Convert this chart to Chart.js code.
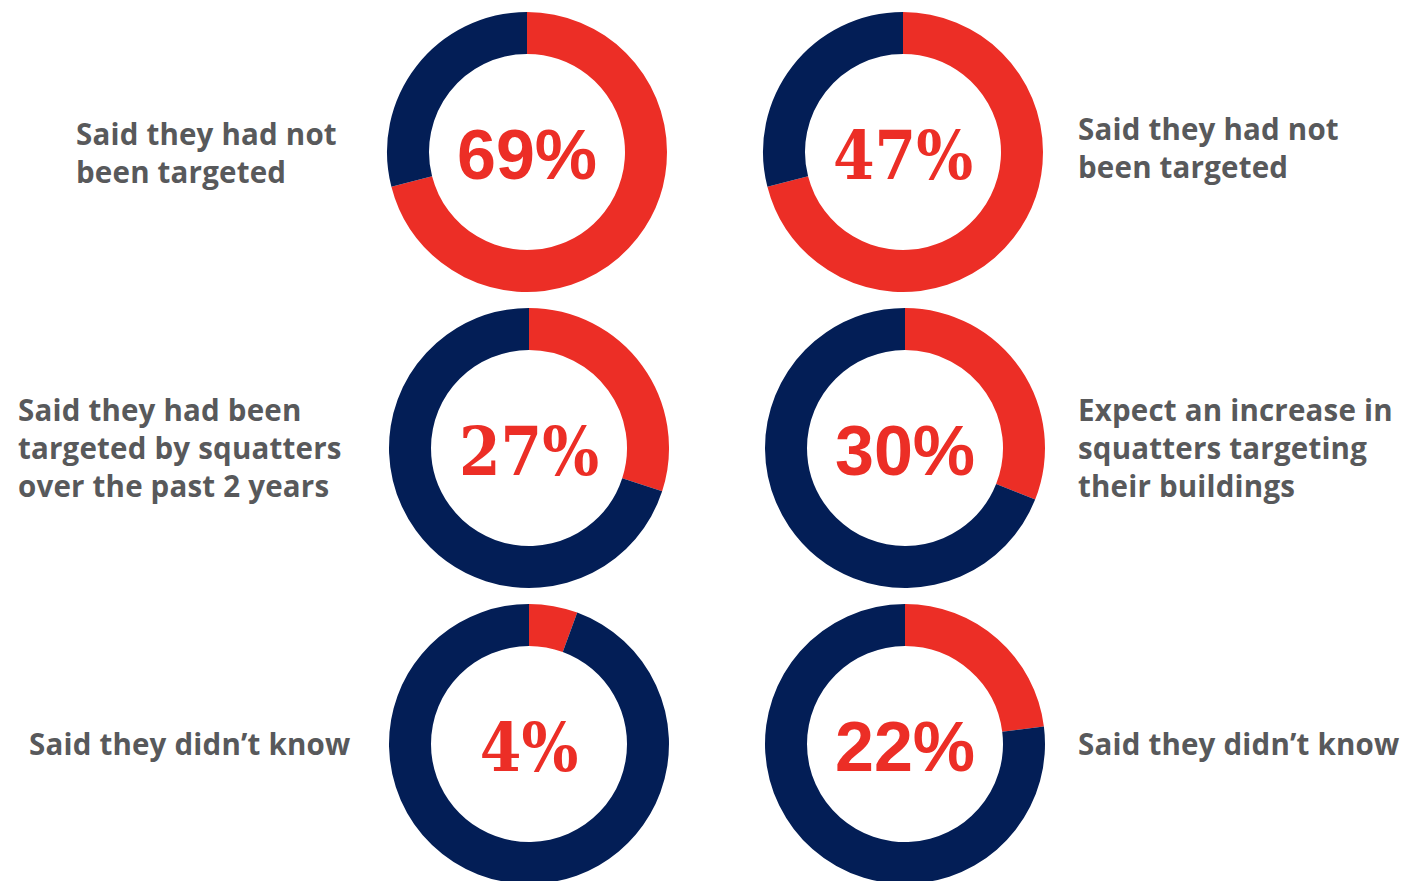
<!DOCTYPE html>
<html>
<head>
<meta charset="utf-8">
<script src="https://cdn.jsdelivr.net/npm/chart.js@4.4.1/dist/chart.umd.min.js"></script>
<style>
  html, body { margin: 0; padding: 0; background: #ffffff; width: 1413px; height: 881px; overflow: hidden; }
  .wrap { position: absolute; width: 300px; height: 300px; }
  .cap { position: absolute; font-family: "Open Sans", sans-serif; font-weight: 700; font-size: 29.5px;
         letter-spacing: 0.2px; line-height: 38px; color: #58595B; white-space: nowrap; }
</style>
</head>
<body>
<script>
// ---- data ----
const centerLabels = ['69%', '47%', '27%', '30%', '4%', '22%'];
const redShare = [71, 71, 30, 31, 5.6, 23];          // red arc share as drawn
const restShare = [29, 29, 70, 69, 94.4, 77];        // navy arc share as drawn
const slabFont = [false, true, true, false, true, false];
const captions = [
  ['Said they had not', 'been targeted'],
  ['Said they had not', 'been targeted'],
  ['Said they had been', 'targeted by squatters', 'over the past 2 years'],
  ['Expect an increase in', 'squatters targeting', 'their buildings'],
  ['Said they didn\u2019t know'],
  ['Said they didn\u2019t know']
];

// ---- layout ----
const centers = [[527,152],[903,152],[529,448],[905,448],[529,744],[905,744]];
const capPos = [[76,115],[1078,110],[18,391],[1078,391],[29,725],[1078,725]];
const RED = '#EC2E26', NAVY = '#031E56';

const centerText = {
  id: 'centerText',
  afterDraw(chart, args, opts) {
    const ctx = chart.ctx;
    const meta = chart.getDatasetMeta(0).data[0];
    const cx = meta.x, cy = meta.y;
    ctx.save();
    ctx.fillStyle = RED;
    ctx.textAlign = 'center';
    ctx.textBaseline = 'alphabetic';
    ctx.translate(cx, cy + 27);
    if (opts.slab) {
      ctx.font = 'bold 68px "DejaVu Serif", serif';
      ctx.scale(0.88, 1);
    } else {
      ctx.font = 'bold 70px "Liberation Sans", Arial, sans-serif';
    }
    ctx.fillText(opts.text, 0, 0);
    ctx.restore();
  }
};

centers.forEach((c, i) => {
  const div = document.createElement('div');
  div.className = 'wrap';
  div.style.left = (c[0] - 150) + 'px';
  div.style.top = (c[1] - 150) + 'px';
  const cv = document.createElement('canvas');
  cv.width = 300; cv.height = 300;
  div.appendChild(cv);
  document.body.appendChild(div);
  new Chart(cv, {
    type: 'doughnut',
    data: {
      labels: ['Share', 'Rest'],
      datasets: [{
        data: [redShare[i], restShare[i]],
        backgroundColor: [RED, NAVY],
        borderWidth: 0
      }]
    },
    options: {
      responsive: false,
      animation: false,
      radius: 140,
      cutout: '70%',
      layout: { padding: 0 },
      plugins: {
        legend: { display: false },
        tooltip: { enabled: false },
        centerText: { text: centerLabels[i], slab: slabFont[i] }
      }
    },
    plugins: [centerText]
  });

  const cap = document.createElement('div');
  cap.className = 'cap';
  cap.style.left = capPos[i][0] + 'px';
  cap.style.top = capPos[i][1] + 'px';
  cap.innerHTML = captions[i].join('<br>');
  document.body.appendChild(cap);
});
</script>
</body>
</html>
